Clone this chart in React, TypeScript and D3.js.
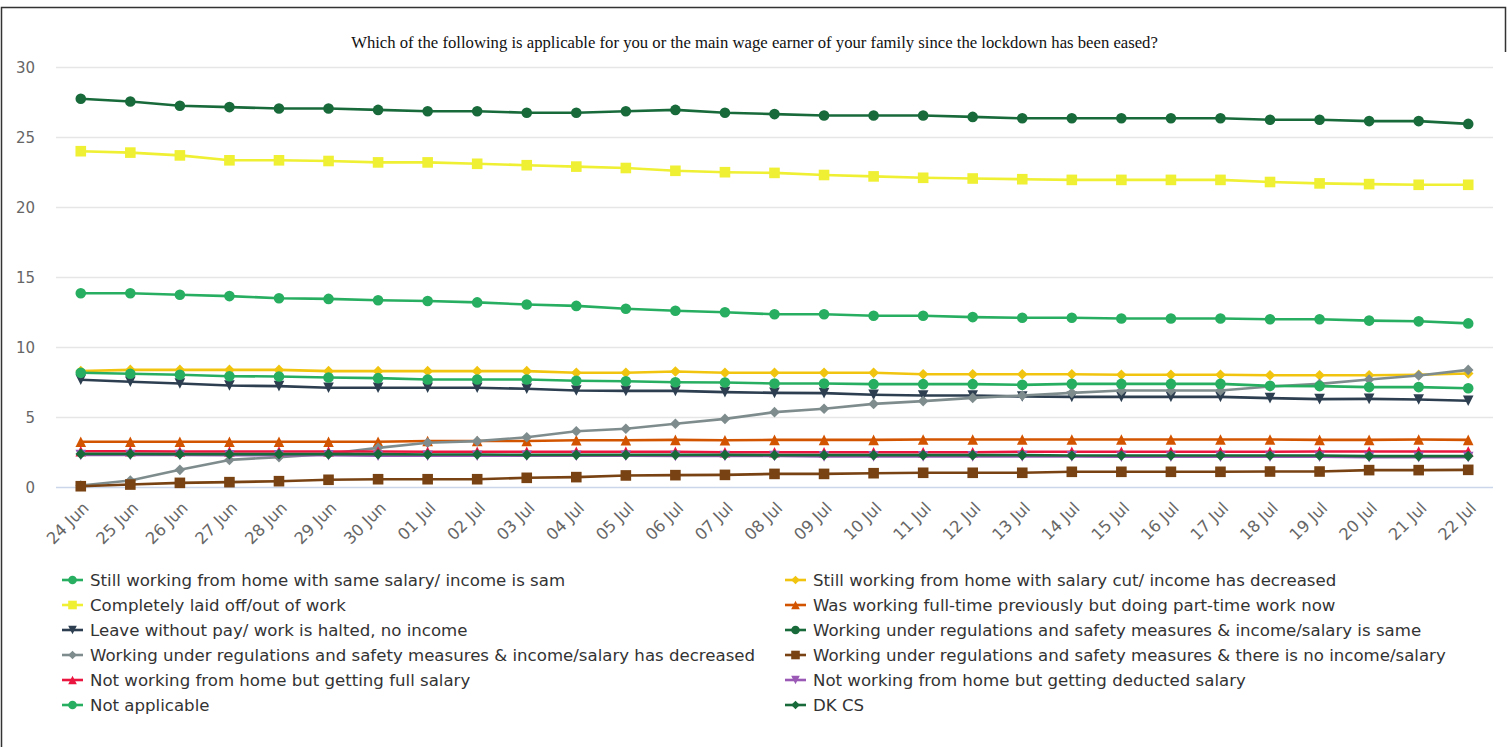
import React from "react";
import * as d3 from "d3";

const W = 1507;
const H = 747;

const categories = [
  "24 Jun", "25 Jun", "26 Jun", "27 Jun", "28 Jun", "29 Jun", "30 Jun",
  "01 Jul", "02 Jul", "03 Jul", "04 Jul", "05 Jul", "06 Jul", "07 Jul",
  "08 Jul", "09 Jul", "10 Jul", "11 Jul", "12 Jul", "13 Jul", "14 Jul",
  "15 Jul", "16 Jul", "17 Jul", "18 Jul", "19 Jul", "20 Jul", "21 Jul", "22 Jul",
];

const yTicks = [0, 5, 10, 15, 20, 25, 30];

const title =
  "Which of the following is applicable for you or the main wage earner of your family since the lockdown has been eased?";

const stillSame = [13.8, 13.8, 13.7, 13.6, 13.45, 13.4, 13.3, 13.25, 13.15, 13.0, 12.9, 12.7, 12.55, 12.45, 12.3, 12.3, 12.2, 12.2, 12.1, 12.05, 12.05, 12.0, 12.0, 12.0, 11.95, 11.95, 11.85, 11.8, 11.65];
const salaryCut = [8.25, 8.33, 8.33, 8.33, 8.33, 8.24, 8.24, 8.24, 8.24, 8.24, 8.12, 8.12, 8.21, 8.12, 8.12, 8.12, 8.12, 8.02, 8.02, 8.02, 8.02, 7.98, 7.98, 7.98, 7.95, 7.95, 7.95, 7.98, 8.07];
const laidOff = [23.95, 23.85, 23.65, 23.3, 23.3, 23.25, 23.15, 23.15, 23.05, 22.95, 22.85, 22.75, 22.55, 22.45, 22.4, 22.25, 22.15, 22.05, 22.0, 21.95, 21.9, 21.9, 21.9, 21.9, 21.75, 21.65, 21.6, 21.55, 21.55];
const partTime = [3.2, 3.2, 3.2, 3.2, 3.2, 3.2, 3.2, 3.25, 3.25, 3.25, 3.3, 3.3, 3.33, 3.3, 3.33, 3.33, 3.33, 3.36, 3.36, 3.36, 3.36, 3.36, 3.36, 3.36, 3.36, 3.33, 3.33, 3.36, 3.33];
const leaveNoPay = [7.62, 7.48, 7.36, 7.21, 7.17, 7.05, 7.05, 7.05, 7.05, 6.98, 6.86, 6.83, 6.83, 6.74, 6.69, 6.67, 6.55, 6.5, 6.5, 6.43, 6.4, 6.4, 6.4, 6.4, 6.31, 6.24, 6.26, 6.21, 6.12];
const regsSame = [27.7, 27.5, 27.2, 27.1, 27.0, 27.0, 26.9, 26.8, 26.8, 26.7, 26.7, 26.8, 26.9, 26.7, 26.6, 26.5, 26.5, 26.5, 26.4, 26.3, 26.3, 26.3, 26.3, 26.3, 26.2, 26.2, 26.1, 26.1, 25.9];
const regsDecreased = [0.07, 0.43, 1.19, 1.9, 2.1, 2.33, 2.76, 3.12, 3.24, 3.52, 3.95, 4.12, 4.48, 4.83, 5.31, 5.55, 5.9, 6.1, 6.33, 6.5, 6.69, 6.86, 6.86, 6.86, 7.14, 7.33, 7.64, 7.93, 8.33];
const regsNoIncome = [0.02, 0.14, 0.26, 0.31, 0.38, 0.48, 0.52, 0.52, 0.52, 0.62, 0.67, 0.79, 0.81, 0.83, 0.9, 0.9, 0.95, 0.98, 0.98, 0.98, 1.05, 1.05, 1.05, 1.05, 1.07, 1.07, 1.17, 1.17, 1.19];
const fullSalary = [2.52, 2.52, 2.5, 2.5, 2.5, 2.5, 2.5, 2.48, 2.48, 2.48, 2.48, 2.48, 2.48, 2.45, 2.45, 2.45, 2.45, 2.45, 2.45, 2.48, 2.48, 2.48, 2.48, 2.48, 2.48, 2.5, 2.5, 2.5, 2.5];
const deductedSalary = [2.25, 2.25, 2.25, 2.23, 2.23, 2.23, 2.2, 2.2, 2.2, 2.2, 2.2, 2.2, 2.18, 2.18, 2.18, 2.15, 2.15, 2.15, 2.15, 2.15, 2.15, 2.13, 2.13, 2.13, 2.13, 2.13, 2.1, 2.1, 2.1];
const notApplicable = [8.12, 8.05, 7.98, 7.88, 7.86, 7.79, 7.74, 7.64, 7.64, 7.64, 7.55, 7.52, 7.45, 7.43, 7.36, 7.36, 7.31, 7.31, 7.31, 7.26, 7.33, 7.33, 7.33, 7.33, 7.19, 7.17, 7.1, 7.1, 7.02];
const dkCs = [2.33, 2.33, 2.31, 2.31, 2.31, 2.31, 2.31, 2.29, 2.29, 2.26, 2.26, 2.26, 2.26, 2.26, 2.24, 2.24, 2.24, 2.24, 2.24, 2.24, 2.21, 2.21, 2.21, 2.21, 2.21, 2.21, 2.17, 2.17, 2.17];

const seriesNames = [
  "Still working from home with same salary/ income is sam",
  "Still working from home with salary cut/ income has decreased",
  "Completely laid off/out of work",
  "Was working full-time previously but doing part-time work now",
  "Leave without pay/ work is halted, no income",
  "Working under regulations and safety measures & income/salary is same",
  "Working under regulations and safety measures & income/salary has decreased",
  "Working under regulations and safety measures & there is no income/salary",
  "Not working from home but getting full salary",
  "Not working from home but getting deducted salary",
  "Not applicable",
  "DK CS",
];
const seriesValues = [
  stillSame, salaryCut, laidOff, partTime, leaveNoPay, regsSame,
  regsDecreased, regsNoIncome, fullSalary, deductedSalary, notApplicable, dkCs,
];
const seriesColors = [
  "#27ae60", "#f1c40f", "#efef33", "#d35400", "#2c3e50", "#186a3b",
  "#7f8c8d", "#784212", "#ea1640", "#9b59b6", "#27ae60", "#186a3b",
];
const markerCycle = ["circle", "diamond", "square", "triangle", "triangle-down"];

function markerPath(type: string, x: number, y: number, r: number): string {
  switch (type) {
    case "circle": {
      const p = d3.path();
      p.arc(x, y, r, 0, Math.PI * 2);
      return p.toString();
    }
    case "square":
      return `M${x - r},${y - r}H${x + r}V${y + r}H${x - r}Z`;
    case "diamond":
      return `M${x},${y - r}L${x + r},${y}L${x},${y + r}L${x - r},${y}Z`;
    case "triangle":
      return `M${x},${y - r}L${x + r},${y + r}L${x - r},${y + r}Z`;
    default:
      return `M${x - r},${y - r}L${x + r},${y - r}L${x},${y + r}Z`;
  }
}

const FONT = "'DejaVu Sans', Verdana, sans-serif";

export default function App() {
  const plotLeft = 56;
  const plotRight = 1493;
  const plotTop = 66.5;
  const plotBottom = 486.5;

  const x = d3
    .scalePoint<string>()
    .domain(categories)
    .range([plotLeft, plotRight])
    .padding(0.5);
  const y = d3.scaleLinear().domain([0, 30]).range([plotBottom, plotTop]);

  const line = d3
    .line<number>()
    .x((_, i) => x(categories[i]) as number)
    .y((v) => y(v));

  const legendX = [62, 785];
  const legendY0 = 580;
  const legendStep = 25;

  return (
    <svg
      width={W}
      height={H}
      style={{ position: "absolute", left: 0, top: 0, background: "#fff" }}
      fontFamily={FONT}
    >
      <rect x={0} y={0} width={W} height={H} fill="#fff" />
      {/* frame */}
      <path d={`M1.5,${H}V7.5H1505.5V52`} fill="none" stroke="#333" strokeWidth={1.5} />

      <text
        x={754.5}
        y={48}
        textAnchor="middle"
        fontFamily="'Liberation Serif', 'Times New Roman', serif"
        fontSize={16.7}
        fill="#111"
      >
        {title}
      </text>

      {/* grid */}
      {yTicks.map((t) => (
        <g key={t}>
          <line
            x1={plotLeft}
            x2={plotRight}
            y1={Math.round(y(t)) + 0.5}
            y2={Math.round(y(t)) + 0.5}
            stroke={t === 0 ? "#ccd6eb" : "#e6e6e6"}
            strokeWidth={t === 0 ? 1.5 : 1.3}
          />
          <text
            x={35}
            y={y(t) + 1}
            dy="0.35em"
            textAnchor="end"
            fontSize={15}
            fill="#666"
          >
            {t}
          </text>
        </g>
      ))}

      {/* x labels */}
      {categories.map((c) => {
        const cx = (x(c) as number) + 9;
        const cy = 509;
        return (
          <text
            key={c}
            x={cx}
            y={cy}
            textAnchor="end"
            fontSize={16.3}
            fill="#666"
            transform={`rotate(-45 ${cx} ${cy})`}
          >
            {c}
          </text>
        );
      })}

      {/* series */}
      {seriesValues.map((vals, si) => {
        const color = seriesColors[si];
        const mk = markerCycle[si % markerCycle.length];
        return (
          <g key={si}>
            <path
              d={line(vals) || ""}
              fill="none"
              stroke={color}
              strokeWidth={2.6}
              strokeLinejoin="round"
              strokeLinecap="round"
            />
            {vals.map((v, i) => (
              <path
                key={i}
                d={markerPath(mk, x(categories[i]) as number, y(v), 5.3)}
                fill={color}
              />
            ))}
          </g>
        );
      })}

      {/* legend */}
      {seriesNames.map((name, si) => {
        const col = si % 2;
        const row = Math.floor(si / 2);
        const lx = legendX[col];
        const ly = legendY0 + row * legendStep;
        const color = seriesColors[si];
        const mk = markerCycle[si % markerCycle.length];
        return (
          <g key={name}>
            <line x1={lx} x2={lx + 21} y1={ly} y2={ly} stroke={color} strokeWidth={2.6} />
            <path d={markerPath(mk, lx + 10.5, ly, 4.3)} fill={color} />
            <text x={lx + 28} y={ly} dy="0.35em" fontSize={16.6} fill="#333">
              {name}
            </text>
          </g>
        );
      })}
    </svg>
  );
}
